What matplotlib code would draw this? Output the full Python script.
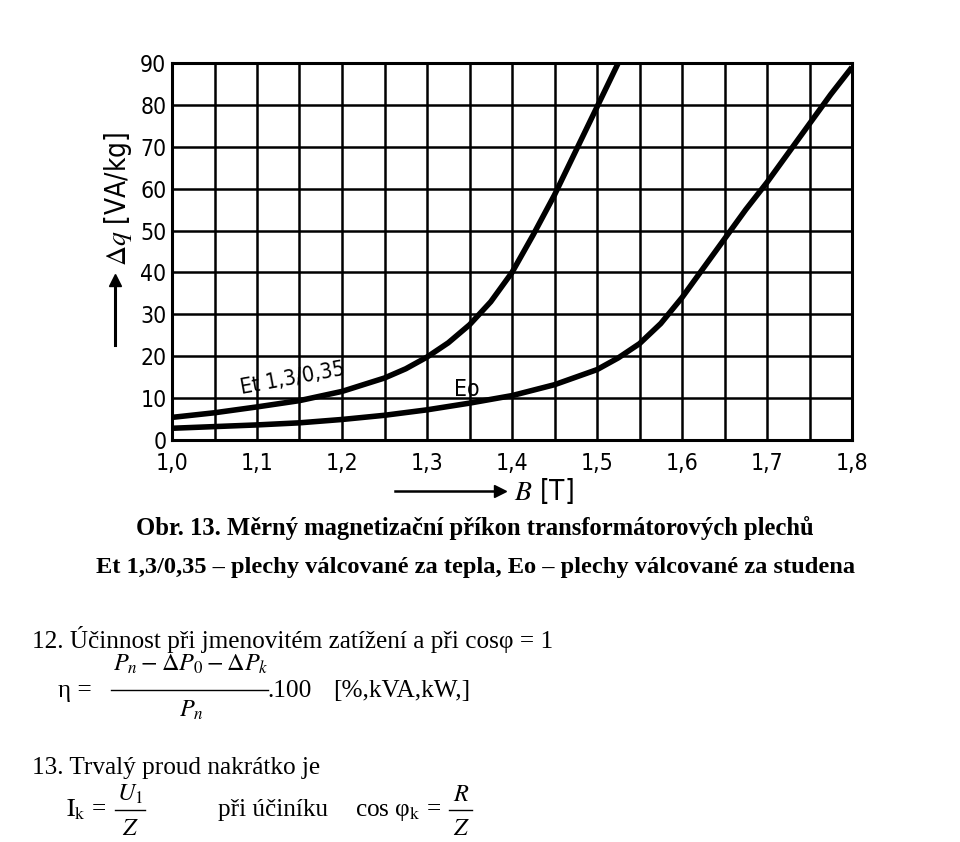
import matplotlib

matplotlib.use("Agg")
import matplotlib.pyplot as plt
from matplotlib.lines import Line2D

# --- data -----------------------------------------------------------------
B_ET = [1.00, 1.05, 1.10, 1.15, 1.20, 1.25, 1.275, 1.30, 1.325, 1.35, 1.375,
        1.40, 1.425, 1.45, 1.475, 1.50, 1.525]
Q_ET = [5.4, 6.5, 7.9, 9.4, 11.6, 14.8, 17.0, 19.8, 23.2, 27.5, 33.0,
        40.0, 49.0, 58.5, 69.0, 79.5, 90.0]

B_EO = [1.00, 1.05, 1.10, 1.15, 1.20, 1.25, 1.30, 1.35, 1.40, 1.45, 1.50,
        1.525, 1.55, 1.575, 1.60, 1.625, 1.65, 1.675, 1.70, 1.725, 1.75,
        1.775, 1.80]
Q_EO = [2.8, 3.2, 3.6, 4.1, 4.9, 5.9, 7.2, 8.8, 10.6, 13.2, 16.8,
        19.6, 23.0, 27.8, 34.0, 41.0, 48.0, 55.0, 61.5, 68.5, 75.5,
        82.5, 89.0]

X_TICKS = [1.0, 1.1, 1.2, 1.3, 1.4, 1.5, 1.6, 1.7, 1.8]
X_TICKLABELS = ["1,0", "1,1", "1,2", "1,3", "1,4", "1,5", "1,6", "1,7", "1,8"]
X_MINOR = [1.05, 1.15, 1.25, 1.35, 1.45, 1.55, 1.65, 1.75]
Y_TICKS = [0, 10, 20, 30, 40, 50, 60, 70, 80, 90]

W, H = 960, 842
SANS = ["DejaVu Sans"]
SERIF = ["Liberation Serif", "DejaVu Serif"]

plt.rcParams["mathtext.fontset"] = "stix"


def fx(x):
    return x / W


def fy(y):
    return 1 - y / H


fig = plt.figure(figsize=(W / 100, H / 100), dpi=100)
fig.patch.set_facecolor("white")

# axes box: 1.0 -> px 172, 1.8 -> px 852, 0 -> px 440, 90 -> px 63
ax = fig.add_axes([fx(172), fy(440), fx(852) - fx(172), fy(63) - fy(440)])
ax.set_xlim(1.0, 1.8)
ax.set_ylim(0, 90)

ax.set_xticks(X_TICKS)
ax.set_xticks(X_MINOR, minor=True)
ax.set_yticks(Y_TICKS)
ax.grid(True, which="both", color="black", linewidth=1.8)
ax.tick_params(which="both", length=0)
ax.set_xticklabels(X_TICKLABELS, family=SANS, fontsize=16.5,
                   fontstretch="condensed")
ax.set_yticklabels([str(v) for v in Y_TICKS], family=SANS, fontsize=16.5,
                   fontstretch="condensed")
ax.tick_params(axis="x", pad=9)
ax.tick_params(axis="y", pad=4)
for sp in ax.spines.values():
    sp.set_linewidth(2.2)

ax.plot(B_ET, Q_ET, color="black", linewidth=4.0, solid_capstyle="butt",
        solid_joinstyle="round", zorder=3)
ax.plot(B_EO, Q_EO, color="black", linewidth=4.0, solid_capstyle="butt",
        solid_joinstyle="round", zorder=3)

# curve labels
fig.text(fx(293), fy(378), "Et 1,3/0,35", family=SANS, fontsize=15.5,
         fontstretch="condensed", rotation=10.5, ha="center", va="center")
fig.text(fx(467), fy(390), "Eo", family=SANS, fontsize=16.5,
         fontstretch="condensed", ha="center", va="center")

# axis titles with arrows
fig.text(fx(118), fy(199), r"$\Delta q$ [VA/kg]", family=SANS, fontsize=20,
         fontstretch="condensed", rotation=90, ha="center", va="center")
fig.add_artist(Line2D([fx(115), fx(115)], [fy(345), fy(282)],
                      color="black", linewidth=2.2))
fig.add_artist(Line2D([fx(115)], [fy(280)], marker="^", markersize=8,
                      color="black"))
fig.add_artist(Line2D([fx(395), fx(500)], [fy(491), fy(491)],
                      color="black", linewidth=1.8))
fig.add_artist(Line2D([fx(500)], [fy(491)], marker=">", markersize=8,
                      color="black"))
fig.text(fx(514), fy(491), r"$B$ [T]", family=SANS, fontsize=20,
         fontstretch="condensed", ha="left", va="center")

# caption
fig.text(fx(475), fy(528),
         "Obr. 13. Měrný magnetizační příkon transformátorových plechů",
         family=SERIF, fontsize=17.7, fontweight="bold",
         ha="center", va="center")
fig.text(fx(476), fy(567),
         "Et 1,3/0,35 – plechy válcované za tepla, Eo – plechy válcované za studena",
         family=SERIF, fontsize=17.6, fontweight="bold",
         ha="center", va="center")

# text below the chart (baseline aligned)
FS = 18.2
FM = 17.5
fig.text(fx(32), fy(648), "12. Účinnost při jmenovitém zatížení a při cosφ = 1",
         family=SERIF, fontsize=FS, ha="left", va="baseline")
fig.text(fx(58), fy(697), "η =", family=SERIF, fontsize=FS,
         ha="left", va="baseline")
fig.text(fx(191), fy(671), r"$P_n - \Delta P_0 - \Delta P_k$", fontsize=FM,
         ha="center", va="baseline")
fig.add_artist(Line2D([fx(111), fx(268)], [fy(690), fy(690)],
                      color="black", linewidth=1.0))
fig.text(fx(191), fy(717), r"$P_n$", fontsize=FM, ha="center", va="baseline")
fig.text(fx(267), fy(697), ".100", family=SERIF, fontsize=FS,
         ha="left", va="baseline")
fig.text(fx(333), fy(697), "[%,kVA,kW,]", family=SERIF, fontsize=FS,
         ha="left", va="baseline")

fig.text(fx(32), fy(774), "13. Trvalý proud nakrátko je", family=SERIF,
         fontsize=FS, ha="left", va="baseline")
fig.text(fx(66), fy(816), r"$\mathrm{I_k}$ =", family=SERIF, fontsize=FS,
         ha="left", va="baseline")
fig.text(fx(130), fy(801), r"$U_{\mathrm{1}}$", fontsize=FM,
         ha="center", va="baseline")
fig.add_artist(Line2D([fx(115), fx(145)], [fy(810), fy(810)],
                      color="black", linewidth=1.0))
fig.text(fx(130), fy(835), r"$Z$", fontsize=FM, ha="center", va="baseline")
fig.text(fx(218), fy(816), "při účiníku", family=SERIF, fontsize=FS,
         ha="left", va="baseline")
fig.text(fx(355), fy(816), r"cos φ$_\mathrm{k}$ =", family=SERIF, fontsize=FS,
         ha="left", va="baseline")
fig.text(fx(461), fy(801), r"$R$", fontsize=FM, ha="center", va="baseline")
fig.add_artist(Line2D([fx(449), fx(472)], [fy(810), fy(810)],
                      color="black", linewidth=1.0))
fig.text(fx(461), fy(835), r"$Z$", fontsize=FM, ha="center", va="baseline")

fig.savefig("out.png", dpi=100)
